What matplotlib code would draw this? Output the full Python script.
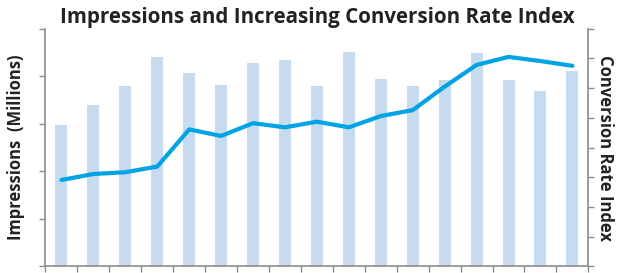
import numpy as np
import matplotlib.pyplot as plt

# Data (axes carry no tick labels)
periods = list(range(1, 18))
impressions = [149, 170, 190, 220, 203, 191, 214, 217, 190, 225, 197, 190, 196, 224, 196, 184, 205]
conv_index = [29.1, 31.1, 31.7, 33.6, 46.1, 43.9, 48.2, 46.8, 48.7, 46.8, 50.6, 52.6, 60.5, 67.8, 70.5, 69.1, 67.5]

bar_color = "#C6DAF0"
line_color = "#00A3E4"
axis_color = "#8C8C8C"

plt.rcParams['font.family'] = ['Open Sans', 'DejaVu Sans']

fig = plt.figure(figsize=(6.19, 2.73), dpi=100)
ax = fig.add_axes([0.0735, 0.024, 0.877, 0.871])
ax2 = ax.twinx()

x = np.arange(len(periods))
ax.bar(x, impressions, width=0.375, color=bar_color, zorder=2)
ax2.plot(x, conv_index, color=line_color, lw=3.0, solid_capstyle='round', zorder=3)

ax.set_xlim(-0.5, len(periods) - 0.5)
ax.set_ylim(0, 250)
ax.set_yticks(np.arange(0, 251, 50))
ax2.set_ylim(0, 80)
ax2.set_yticks(np.arange(0, 81, 10))
ax.set_xticks(np.arange(-0.5, len(periods), 1.0))

for a in (ax, ax2):
    a.set_yticklabels([])
    a.spines['top'].set_visible(False)
    for s in ('left', 'right', 'bottom'):
        a.spines[s].set_color(axis_color)
        a.spines[s].set_linewidth(1.2)
    a.tick_params(colors=axis_color, length=4, width=1.0, direction='out')
ax.set_xticklabels([])
ax.spines['right'].set_visible(False)
ax2.spines['left'].set_visible(False)
ax2.spines['bottom'].set_visible(False)

ax.set_ylabel("Impressions  (Millions)", fontsize=12, fontweight='bold', color='#222222', labelpad=7)
ax2.set_ylabel("Conversion Rate Index", fontsize=12, fontweight='bold', color='#222222',
               rotation=-90, labelpad=11)
ax.set_title("Impressions and Increasing Conversion Rate Index", fontsize=14.8, fontweight='bold',
             color='#222222', pad=4)

fig.savefig("out.png", dpi=100)
